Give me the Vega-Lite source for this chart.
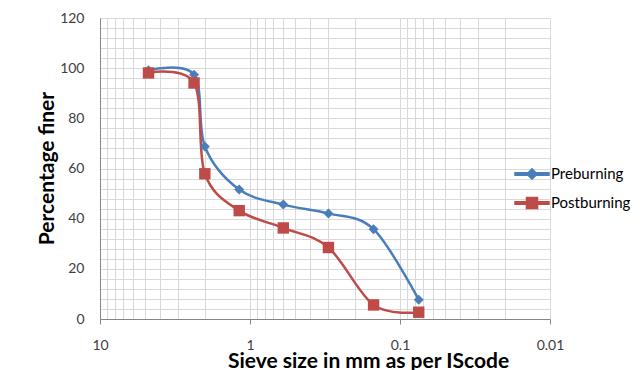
{
  "$schema": "https://vega.github.io/schema/vega-lite/v6.json",
  "width": 450,
  "height": 301,
  "autosize": {"type": "none"},
  "padding": {"left": 100, "top": 18, "right": 93, "bottom": 51},
  "background": "white",
  "config": {
    "font": "Lato",
    "view": {"stroke": null},
    "axis": {
      "gridColor": "#d9d9d9",
      "gridWidth": 1,
      "domainColor": "#868686",
      "tickColor": "#868686",
      "labelColor": "#404040",
      "labelFontSize": 14,
      "labelFont": "Lato",
      "titleFont": "Lato",
      "titleFontSize": 21,
      "titleFontWeight": "bold",
      "titleColor": "#000000"
    },
    "legend": {
      "orient": "none",
      "legendX": 422.5,
      "legendY": 146.5,
      "symbolSize": 289,
      "symbolOpacity": 1,
      "labelOffset": 9.5,
      "labelFontSize": 15,
      "labelColor": "#000000",
      "labelFont": "Lato",
      "rowPadding": 11
    }
  },
  "data": {
    "values": [
      {"size": 4.75, "pct": 99.2, "series": "Preburning"},
      {"size": 2.36, "pct": 97.4, "series": "Preburning"},
      {"size": 2.0, "pct": 68.8, "series": "Preburning"},
      {"size": 1.18, "pct": 51.6, "series": "Preburning"},
      {"size": 0.6, "pct": 45.6, "series": "Preburning"},
      {"size": 0.3, "pct": 42.1, "series": "Preburning"},
      {"size": 0.15, "pct": 35.8, "series": "Preburning"},
      {"size": 0.075, "pct": 7.7, "series": "Preburning"},
      {"size": 4.75, "pct": 98.1, "series": "Postburning"},
      {"size": 2.36, "pct": 94.1, "series": "Postburning"},
      {"size": 2.0, "pct": 57.9, "series": "Postburning"},
      {"size": 1.18, "pct": 43.2, "series": "Postburning"},
      {"size": 0.6, "pct": 36.3, "series": "Postburning"},
      {"size": 0.3, "pct": 28.5, "series": "Postburning"},
      {"size": 0.15, "pct": 5.6, "series": "Postburning"},
      {"size": 0.075, "pct": 2.7, "series": "Postburning"}
    ]
  },
  "encoding": {
    "x": {
      "field": "size",
      "type": "quantitative",
      "scale": {"type": "log", "domain": [10, 0.01], "nice": false},
      "axis": {
        "title": "Sieve size in mm as per IScode",
        "values": [10, 9, 8, 7, 6, 5, 4, 3, 2, 1, 0.9, 0.8, 0.7, 0.6, 0.5, 0.4, 0.3, 0.2, 0.1, 0.09, 0.08, 0.07, 0.06, 0.05, 0.04, 0.03, 0.02, 0.01],
        "format": "~g",
        "labelExpr": "indexof([10, 1, 0.1, 0.01], datum.value) >= 0 ? datum.label : ''",
        "tickSize": 5,
        "tickOpacity": {"condition": {"test": "indexof([10, 1, 0.1, 0.01], datum.value) >= 0", "value": 1}, "value": 0},
        "labelPadding": 14,
        "labelFlush": false,
        "labelOverlap": false,
        "titleX": 268,
        "titleY": 48,
        "titleAlign": "center",
        "titleBaseline": "alphabetic"
      }
    },
    "y": {
      "field": "pct",
      "type": "quantitative",
      "scale": {"domain": [0, 120], "nice": false},
      "axis": {
        "title": "Percentage finer",
        "values": [0, 4, 8, 12, 16, 20, 24, 28, 32, 36, 40, 44, 48, 52, 56, 60, 64, 68, 72, 76, 80, 84, 88, 92, 96, 100, 104, 108, 112, 116, 120],
        "labelExpr": "datum.value % 20 == 0 ? datum.label : ''",
        "ticks": false,
        "labelPadding": 16,
        "labelOverlap": false,
        "titleX": -53,
        "titleY": 150,
        "titleAlign": "center",
        "titleBaseline": "middle",
        "titleAngle": -90
      }
    },
    "color": {
      "field": "series",
      "type": "nominal",
      "scale": {"domain": ["Preburning", "Postburning"], "range": ["#4a7ebb", "#be4b48"]},
      "legend": {"title": null}
    }
  },
  "layer": [
    {
      "mark": {"type": "line", "interpolate": "cardinal", "strokeWidth": 2.5}
    },
    {
      "transform": [{"filter": "datum.series === 'Preburning'"}],
      "mark": {"type": "point", "filled": true, "opacity": 1, "shape": "diamond", "size": 100}
    },
    {
      "transform": [{"filter": "datum.series === 'Postburning'"}],
      "mark": {"type": "point", "filled": true, "opacity": 1, "shape": "square", "size": 130}
    },
    {
      "mark": {"type": "point", "filled": true, "opacity": 0},
      "encoding": {
        "shape": {
          "field": "series",
          "type": "nominal",
          "scale": {"domain": ["Preburning", "Postburning"], "range": ["M-2,-0.15H2V0.15H-2Z M0,-0.6L0.6,0L0,0.6L-0.6,0Z", "M-2,-0.15H2V0.15H-2Z M-0.65,-0.65H0.65V0.65H-0.65Z"]},
          "legend": {"title": null}
        }
      }
    }
  ]
}
